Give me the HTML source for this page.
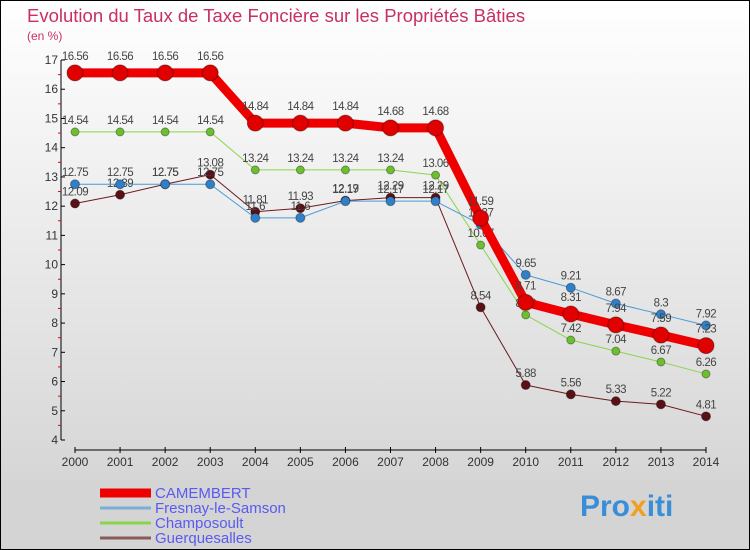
<!DOCTYPE html>
<html><head><meta charset="utf-8"><style>
body{margin:0;width:750px;height:550px;overflow:hidden;font-family:"Liberation Sans",sans-serif}
svg{display:block}
</style></head><body>
<svg id="c" width="750" height="550" xmlns="http://www.w3.org/2000/svg">
<defs><linearGradient id="bg" x1="0" y1="0" x2="0" y2="1"><stop offset="0" stop-color="#ffffff"/><stop offset="1" stop-color="#d6d6d6"/></linearGradient></defs>
<rect x="0" y="0" width="750" height="480" fill="url(#bg)"/>
<rect x="0" y="480" width="750" height="70" fill="#d4d4d4"/>
<rect x="0.5" y="0.5" width="749" height="549" fill="none" stroke="#000"/>
<text x="27" y="22" font-size="18.5" fill="#c8305f">Evolution du Taux de Taxe Foncière sur les Propriétés Bâties</text>
<text x="27" y="40" font-size="12" fill="#c8305f">(en %)</text>
<g id="axes"></g><g id="series"></g><g id="legend"></g>
<text x="580" y="516" font-size="30" font-weight="bold" fill="#3a8ed8">Pro<tspan fill="#f0a020">x</tspan>iti</text>
</svg>
<script>
const years=[2000,2001,2002,2003,2004,2005,2006,2007,2008,2009,2010,2011,2012,2013,2014];
const yTicks=[4,5,6,7,8,9,10,11,12,13,14,15,16,17];
const names=["CAMEMBERT","Fresnay-le-Samson","Champosoult","Guerquesalles"];
const camembert=[16.56,16.56,16.56,16.56,14.84,14.84,14.84,14.68,14.68,11.59,8.71,8.31,7.94,7.59,7.23];
const fresnay=[12.75,12.75,12.75,12.75,11.6,11.6,12.17,12.17,12.17,11.37,9.65,9.21,8.67,8.3,7.92];
const champosoult=[14.54,14.54,14.54,14.54,13.24,13.24,13.24,13.24,13.06,10.67,8.28,7.42,7.04,6.67,6.26];
const guerquesalles=[12.09,12.39,12.75,13.08,11.81,11.93,12.19,12.29,12.29,8.54,5.88,5.56,5.33,5.22,4.81];
const NS="http://www.w3.org/2000/svg";
const X=i=>75+i*(706-75)/(years.length-1);
const Y=v=>440-(v-4)*(380/13);
function mk(t,a,p){const e=document.createElementNS(NS,t);for(const k in a)e.setAttribute(k,a[k]);p.appendChild(e);return e;}
const ax=document.getElementById('axes');
const yl=mk('line',{x1:61,y1:Y(17),x2:61,y2:Y(4),stroke:'#000'},ax);


const xl=mk('line',{x1:X(0),y1:450,x2:X(years.length-1),y2:450,stroke:'#000'},ax);


yTicks.forEach(v=>{
 mk('line',{x1:61,y1:Y(v),x2:65,y2:Y(v),stroke:'#000'},ax);
 if(v<17)mk('line',{x1:58,y1:Y(v+0.5),x2:61,y2:Y(v+0.5),stroke:'#e00'},ax);
 const t=mk('text',{x:58,y:Y(v)+4,'font-size':12,'text-anchor':'end',fill:'#333'},ax);t.textContent=v;
 
 
});
years.forEach((y,i)=>{
 mk('line',{x1:X(i),y1:447,x2:X(i),y2:453,stroke:'#000'},ax);
 const t=mk('text',{x:X(i),y:466,'font-size':12,'text-anchor':'middle',fill:'#333'},ax);t.textContent=y;
 
 
});
const sg=document.getElementById('series');
const defs=[[guerquesalles,'#6b1a1e',1,4.5,'#5a1014'],[champosoult,'#8ad44a',1,4,'#6cc030'],[fresnay,'#4a9ad6',1,4.5,'#2f80c8'],[camembert,'#ee0000',9,8,'#e00000']];
const keys=['guerquesalles','champosoult','fresnay','camembert'];
defs.forEach((d,k)=>{
 const [vals,col,w,r,dot]=d;
 const g=mk('g',{},sg);
 
 
 const pl=mk('polyline',{points:vals.map((v,i)=>X(i)+','+Y(v)).join(' '),fill:'none',stroke:col,'stroke-width':w,'stroke-linejoin':'round'},g);
 
 
 vals.forEach((v,i)=>{
  const c=mk('circle',{cx:X(i),cy:Y(v),r:r,fill:dot,stroke:'rgba(0,0,0,0.35)','stroke-width':1},g);
  
  
  const t=mk('text',{x:X(i),y:Y(v)-(k==3?13:8),'font-size':11.5,'text-anchor':'middle',fill:'#444','letter-spacing':'-0.5'},g);
  t.textContent=v;
  
  
 });
});
const lg=document.getElementById('legend');
const lc=[['#ee0000',9],['#7aaed6',3],['#8ad44a',3],['#8a5a5a',3]];
names.forEach((n,i)=>{
 const y=492+i*15;
 const g=mk('g',{},lg);
 
 
 mk('line',{x1:100,y1:y+1,x2:151,y2:y+1,stroke:lc[i][0],'stroke-width':lc[i][1]},g);
 const t=mk('text',{x:155,y:y+6,'font-size':15,fill:'#5a5af0'},g);t.textContent=n;
});
</script>
</body></html>
